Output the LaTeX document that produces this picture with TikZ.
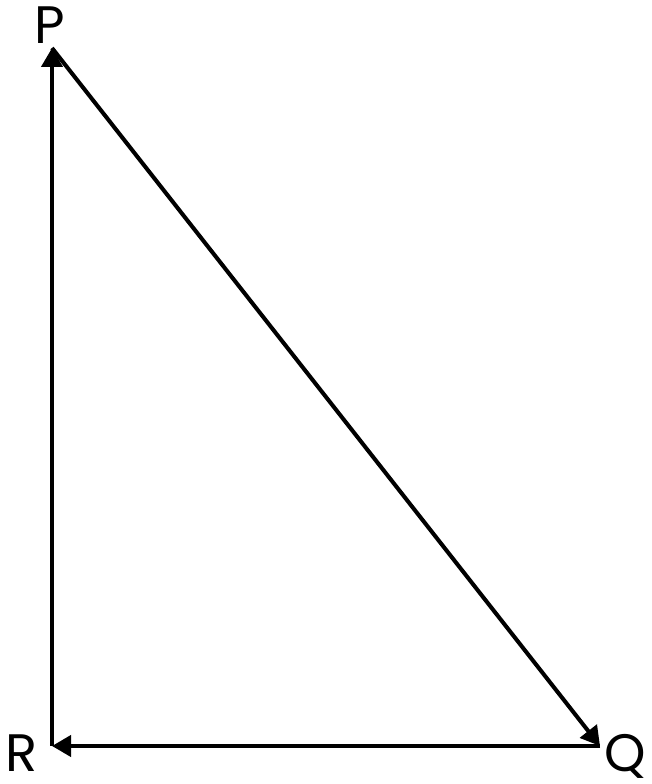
\documentclass[tikz,border=0pt]{standalone}
\usepackage{fontspec}
\setmainfont{Poppins}
\usetikzlibrary{arrows.meta}

\tikzset{
	side/.style={line width=2.3pt, -{Triangle[length=0.38cm,width=0.42cm]}},
	vlabel/.style={inner sep=0pt, anchor=base, font=\fontsize{30}{36}\selectfont}
}

\begin{document}
\begin{tikzpicture}
			\useasboundingbox (0,0) rectangle (13.02,15.68);
			\coordinate (R) at (1.04,0.76);
			\coordinate (P) at (1.04,14.72);
			\coordinate (Q) at (12.0,0.76);
			\draw (1.0,14.8) node[vlabel] (labP) {P};
			\draw (0.44,0.26) node[vlabel] (labR) {R};
			\draw (12.5,0.26) node[vlabel] (labQ) {Q};
			\draw[side] (R) -- (P);
			\draw[side] (P) -- (Q);
			\draw[side] (Q) -- (R);
		\end{tikzpicture}
\end{document}
